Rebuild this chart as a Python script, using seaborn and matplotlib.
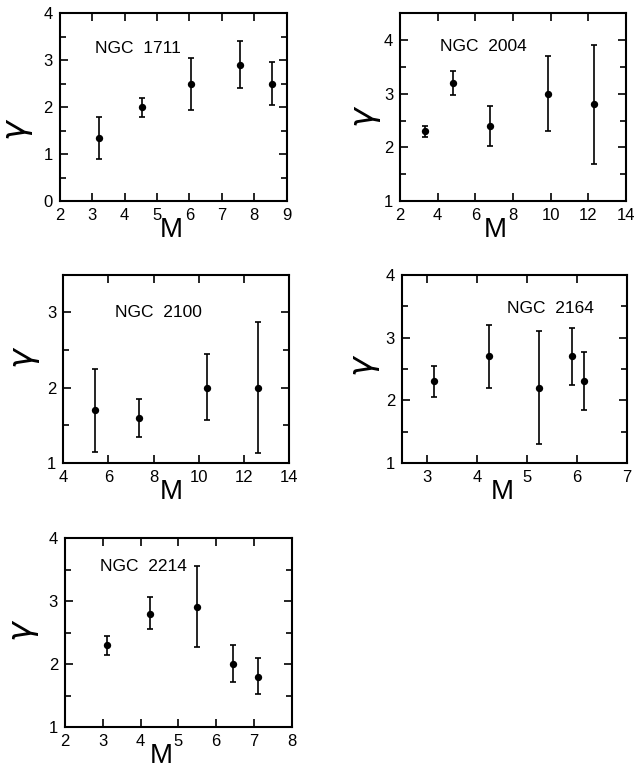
import matplotlib
matplotlib.use("Agg")
import matplotlib.pyplot as plt
import seaborn as sns
import pandas as pd
import numpy as np
from matplotlib.ticker import MultipleLocator

sns.set_style("ticks")
plt.rcParams["font.family"] = ["Liberation Sans", "DejaVu Sans"]
plt.rcParams.update({"text.color": "black", "axes.labelcolor": "black",
                     "xtick.color": "black", "ytick.color": "black",
                     "axes.edgecolor": "black"})

# data: mass bin centre, slope gamma, lower/upper error ends
names = ["NGC  1711", "NGC  2004", "NGC  2100", "NGC  2164", "NGC  2214"]
m_1711 = [3.2, 4.55, 6.05, 7.55, 8.55]
g_1711 = [1.35, 2.0, 2.5, 2.9, 2.5]
lo_1711 = [0.9, 1.8, 1.95, 2.4, 2.05]
hi_1711 = [1.8, 2.2, 3.05, 3.4, 2.97]

m_2004 = [3.3, 4.8, 6.75, 9.85, 12.3]
g_2004 = [2.3, 3.2, 2.4, 3.0, 2.8]
lo_2004 = [2.2, 2.97, 2.03, 2.3, 1.7]
hi_2004 = [2.4, 3.43, 2.77, 3.7, 3.9]

m_2100 = [5.4, 7.35, 10.35, 12.6]
g_2100 = [1.7, 1.6, 2.0, 2.0]
lo_2100 = [1.15, 1.35, 1.57, 1.13]
hi_2100 = [2.25, 1.85, 2.45, 2.87]

m_2164 = [3.15, 4.25, 5.25, 5.9, 6.15]
g_2164 = [2.3, 2.7, 2.2, 2.7, 2.3]
lo_2164 = [2.05, 2.2, 1.3, 2.25, 1.85]
hi_2164 = [2.55, 3.2, 3.1, 3.15, 2.77]

m_2214 = [3.1, 4.25, 5.5, 6.45, 7.1]
g_2214 = [2.3, 2.8, 2.9, 2.0, 1.8]
lo_2214 = [2.15, 2.55, 2.27, 1.72, 1.53]
hi_2214 = [2.45, 3.07, 3.55, 2.3, 2.1]

series = [
    (m_1711, g_1711, lo_1711, hi_1711),
    (m_2004, g_2004, lo_2004, hi_2004),
    (m_2100, g_2100, lo_2100, hi_2100),
    (m_2164, g_2164, lo_2164, hi_2164),
    (m_2214, g_2214, lo_2214, hi_2214),
]

# layout
boxes = [
    [0.094, 0.739, 0.356, 0.244],
    [0.628, 0.739, 0.355, 0.244],
    [0.099, 0.3995, 0.355, 0.244],
    [0.631, 0.3995, 0.353, 0.244],
    [0.102, 0.057, 0.356, 0.245],
]
xlims = [(2, 9), (2, 14), (4, 14), (2.5, 7), (2, 8)]
ylims = [(0, 4), (1, 4.5), (1, 3.5), (1, 4), (1, 4)]
xsteps = [1, 2, 2, 1, 1]
label_pos = [(0.154, 0.81), (0.177, 0.82), (0.23, 0.80), (0.467, 0.82), (0.154, 0.85)]
mlabel_x = [0.49, 0.42, 0.48, 0.444, 0.425]
glabel = [(-0.176, 0.38), (-0.146, 0.45), (-0.16, 0.56), (-0.156, 0.52), (-0.176, 0.51)]

fig = plt.figure(figsize=(6.37, 7.71), dpi=100)

for i, (m, g, lo, hi) in enumerate(series):
    ax = fig.add_axes(boxes[i])
    df = pd.DataFrame({"M": m, "gamma": g})
    yerr = [np.array(g) - np.array(lo), np.array(hi) - np.array(g)]
    ax.errorbar(m, g, yerr=yerr, fmt="none", ecolor="black", elinewidth=1.2,
                capsize=2.5, capthick=1.2)
    sns.scatterplot(data=df, x="M", y="gamma", ax=ax, color="black", s=28,
                    edgecolor="black", linewidth=0, zorder=3)
    ax.set_xlim(*xlims[i])
    ax.set_ylim(*ylims[i])
    ax.xaxis.set_major_locator(MultipleLocator(xsteps[i]))
    ax.yaxis.set_major_locator(MultipleLocator(1))
    ax.yaxis.set_minor_locator(MultipleLocator(0.5))
    ax.tick_params(which="both", direction="in", top=True, right=True,
                   labelsize=12, width=1.2, pad=5)
    ax.tick_params(which="major", length=6)
    ax.tick_params(which="minor", length=4)
    for sp in ax.spines.values():
        sp.set_linewidth(1.5)
    ax.set_xlabel("M", fontsize=20)
    ax.xaxis.set_label_coords(mlabel_x[i], -0.085)
    ax.set_ylabel(r"$\gamma$", fontsize=24, va="center")
    ax.yaxis.set_label_coords(*glabel[i])
    ax.text(label_pos[i][0], label_pos[i][1], names[i], transform=ax.transAxes,
            fontsize=12.5, va="center", ha="left")

fig.savefig("out.png", dpi=100)
